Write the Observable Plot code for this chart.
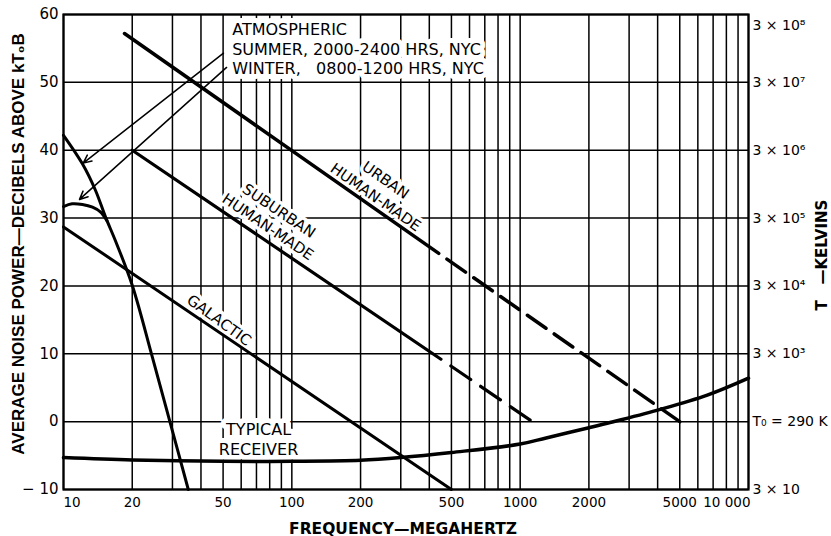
<!DOCTYPE html>
<html>
<head>
<meta charset="utf-8">
<script src="https://cdn.jsdelivr.net/npm/d3@7"></script>
<script src="https://cdn.jsdelivr.net/npm/@observablehq/plot@0.6"></script>
<style>
  html, body { margin: 0; padding: 0; background: #fff; }
  #chart svg { display: block; }
</style>
</head>
<body>
<div id="chart"></div>
<script>
// ---- tick labels / grid ----
const xTicks = [10, 20, 50, 100, 200, 500, 1000, 2000, 5000, 10000];
const xTickLabels = ["10", "20", "50", "100", "200", "500", "1000", "2000", "5000", "10 000"];
const xGrid = [10, 20, 30, 40, 50, 60, 70, 80, 90, 100, 200, 300, 400, 500, 600, 700, 800, 900,
  1000, 2000, 3000, 4000, 5000, 6000, 7000, 8000, 9000, 10000];
const yTicks = [-10, 0, 10, 20, 30, 40, 50, 60];
const yTickLabels = ["\u2212 10", "0", "10", "20", "30", "40", "50", "60"];
const rightTicks = [-10, 0, 10, 20, 30, 40, 50];
const rightLabels = ["3 \u00d7 10", "T\u2080 = 290 K", "3 \u00d7 10\u00b3", "3 \u00d7 10\u2074", "3 \u00d7 10\u2075", "3 \u00d7 10\u2076", "3 \u00d7 10\u2077"];
const rightTopTick = [60];
const rightTopLabel = ["3 \u00d7 10\u2078"];

// ---- series (frequency MHz, dB above kT0B) ----
const urbanFreq = [18.5, 440, 5000];
const urbanDb = [57.2, 24.8, 0];
const suburbanFreq = [20, 450, 1130];
const suburbanDb = [40, 9.2, 0];
const galacticFreq = [10, 500];
const galacticDb = [28.7, -10];
const summerFreq = [10, 12.1, 13.8, 15.3, 17, 20, 24.5, 29.4, 35.2];
const summerDb = [42.2, 38.0, 34.1, 30.1, 26.4, 20.1, 9.5, -0.3, -10];
const winterFreq = [10, 10.9, 12.1, 13.4, 14.5, 15.5];
const winterDb = [31.7, 32.1, 32.0, 31.6, 30.9, 29.6];
const receiverFreq = [10, 20, 50, 100, 200, 300, 500, 1000, 1300, 2000, 2500, 4000, 6600, 10000];
const receiverDb = [-5.3, -5.65, -5.85, -5.85, -5.7, -5.3, -4.55, -3.3, -2.4, -0.9, -0.1, 1.7, 3.9, 6.4];

// ---- annotations ----
const atmosText = ["ATMOSPHERIC", "SUMMER, 2000-2400 HRS, NYC", "WINTER,\u00a0\u00a0 0800-1200 HRS, NYC"];
const atmosFreq = [54.8, 54.8, 54.8];
const atmosDb = [57.05, 53.96, 51.3];
const arrowFromFreq = [50.2, 51.8];
const arrowFromDb = [54.3, 52.2];
const arrowToFreq = [12.2, 11.75];
const arrowToDb = [38.1, 32.75];
const curveLabels = ["URBAN", "HUMAN-MADE", "SUBURBAN", "HUMAN-MADE", "GALACTIC"];
const curveLabelFreq = [257, 232.7, 87.7, 78.5, 47.9];
const curveLabelDb = [35.55, 33.05, 31.03, 28.67, 14.93];
const curveLabelAngle = [35, 35, 34, 34, 36];
const recvText = ["TYPICAL", "RECEIVER"];
const recvFreq = [71.5, 71.5];
const recvDb = [-1.27, -4.2];

const toRows = (fs, ds) => fs.map((f, i) => ({f, db: ds[i]}));
const urbanSolid = toRows(urbanFreq.slice(0, 2), urbanDb.slice(0, 2));
const urbanDash = toRows(urbanFreq.slice(1), urbanDb.slice(1));
const subSolid = toRows(suburbanFreq.slice(0, 2), suburbanDb.slice(0, 2));
const subDash = toRows(suburbanFreq.slice(1), suburbanDb.slice(1));
const galactic = toRows(galacticFreq, galacticDb);
const summer = toRows(summerFreq, summerDb);
const winter = toRows(winterFreq, winterDb);
const receiver = toRows(receiverFreq, receiverDb);
const atmosRows = atmosText.map((t, i) => ({t, f: atmosFreq[i], db: atmosDb[i]}));
const arrows = arrowFromFreq.map((f, i) => ({x1: f, y1: arrowFromDb[i], x2: arrowToFreq[i], y2: arrowToDb[i]}));
const labelRows = curveLabels.map((t, i) => ({t, f: curveLabelFreq[i], db: curveLabelDb[i], a: curveLabelAngle[i]}));
const recvRows = recvText.map((t, i) => ({t, f: recvFreq[i], db: recvDb[i]}));
const xLabelRows = xTicks.map((v, i) => ({v, t: xTickLabels[i]}));

const font = "DejaVu Sans, sans-serif";
const halo = {stroke: "white", strokeWidth: 10, paintOrder: "stroke", fill: "black"};
const xLab = {x: "v", text: "t", frameAnchor: "bottom", lineAnchor: "top", dy: 8, fontSize: 13.5};

const chart = Plot.plot({
  width: 831,
  height: 536,
  marginLeft: 63,
  marginRight: 83,
  marginTop: 14,
  marginBottom: 47,
  style: {fontFamily: font, background: "white", color: "black"},
  x: {type: "log", domain: [10, 10000], axis: null},
  y: {domain: [-10, 60], axis: null},
  marks: [
    Plot.ruleX(xGrid, {stroke: "black", strokeWidth: 1.5}),
    Plot.ruleY(yTicks, {stroke: "black", strokeWidth: 1.5}),
    // text with white halos masking the grid
    Plot.text(atmosRows, {x: "f", y: "db", text: "t", textAnchor: "start", lineAnchor: "bottom",
      fontSize: 16, ...halo}),
    ...labelRows.map(r => Plot.text([r], {x: "f", y: "db", text: "t", rotate: r.a, fontSize: 15,
      textAnchor: "middle", lineAnchor: "middle", ...halo, strokeWidth: 7})),
    Plot.text(recvRows, {x: "f", y: "db", text: "t", fontSize: 16, textAnchor: "middle",
      lineAnchor: "middle", ...halo}),
    // curves
    Plot.line(urbanSolid, {x: "f", y: "db", stroke: "black", strokeWidth: 3.5}),
    Plot.line(urbanDash, {x: "f", y: "db", stroke: "black", strokeWidth: 3.5, strokeDasharray: "22.7,10", strokeDashoffset: -10}),
    Plot.line(subSolid, {x: "f", y: "db", stroke: "black", strokeWidth: 3.2}),
    Plot.line(subDash, {x: "f", y: "db", stroke: "black", strokeWidth: 3.2, strokeDasharray: "24,12", strokeDashoffset: -12}),
    Plot.line(galactic, {x: "f", y: "db", stroke: "black", strokeWidth: 3}),
    Plot.line(summer, {x: "f", y: "db", stroke: "black", strokeWidth: 3, curve: "catmull-rom"}),
    Plot.line(winter, {x: "f", y: "db", stroke: "black", strokeWidth: 3, curve: "catmull-rom"}),
    Plot.line(receiver, {x: "f", y: "db", stroke: "black", strokeWidth: 3.5, curve: "catmull-rom"}),
    Plot.arrow(arrows, {x1: "x1", y1: "y1", x2: "x2", y2: "y2", stroke: "black", strokeWidth: 1.5,
      headLength: 9, headAngle: 50}),
    Plot.frame({stroke: "black", strokeWidth: 2.2}),
    // x tick labels (through the x scale)
    Plot.text(xLabelRows.slice(0, 1), {...xLab, textAnchor: "start"}),
    Plot.text(xLabelRows.slice(1, -1), {...xLab, textAnchor: "middle"}),
    Plot.text(xLabelRows.slice(-1), {...xLab, textAnchor: "end", dx: 2}),
    // y axes
    Plot.axisY(yTicks, {anchor: "left", tickSize: 0, tickPadding: 5, fontSize: 15, label: null,
      tickFormat: d => yTickLabels[yTicks.indexOf(d)]}),
    Plot.axisY(rightTicks, {anchor: "right", tickSize: 0, tickPadding: 4, fontSize: 14, label: null,
      tickFormat: d => rightLabels[rightTicks.indexOf(d)]}),
    Plot.axisY(rightTopTick, {anchor: "right", tickSize: 0, tickPadding: 4, fontSize: 14, label: null, dy: 11,
      tickFormat: d => rightTopLabel[rightTopTick.indexOf(d)]}),
    // axis titles
    Plot.text(["AVERAGE NOISE POWER\u2014DECIBELS ABOVE kT\u2080B"], {frameAnchor: "left", rotate: -90,
      textAnchor: "middle", lineAnchor: "middle", dx: -45, dy: -8, fontSize: 17, fontWeight: "bold",
      fontFamily: "Liberation Sans, sans-serif"}),
    Plot.text(["FREQUENCY\u2014MEGAHERTZ"], {frameAnchor: "bottom", lineAnchor: "bottom",
      dx: -3, dy: 44, fontSize: 15.5, fontWeight: "bold"}),
    Plot.text(["T\u00a0\u00a0\u00a0\u2014KELVINS"], {frameAnchor: "right", rotate: -90,
      textAnchor: "middle", lineAnchor: "middle", dx: 74, dy: 3, fontSize: 15, fontWeight: "bold"})
  ]
});
document.getElementById("chart").appendChild(chart);
</script>
</body>
</html>
